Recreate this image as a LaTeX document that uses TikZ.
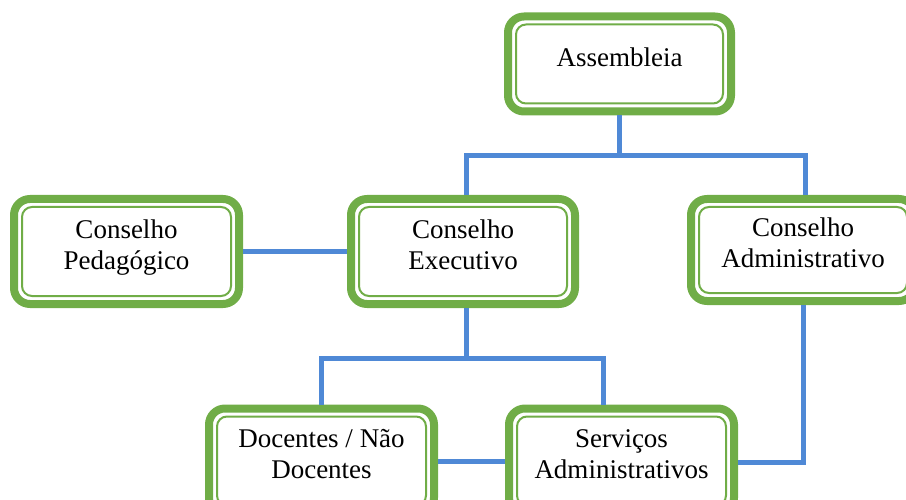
\documentclass[tikz,border=0pt]{standalone}
\usepackage{fontspec}
\setmainfont{Liberation Serif}
\definecolor{boxgreen}{HTML}{70AD47}
\definecolor{lineblue}{HTML}{4F89D6}
\begin{document}
\begin{tikzpicture}[x=1pt,y=-1pt,
  orgbox/.style={draw=boxgreen, line width=8pt, rounded corners=16pt, fill=white,
    minimum width=224pt, minimum height=105pt, align=center, text depth=14pt,
    font=\fontsize{27}{31}\selectfont},
  inbox/.style={draw=boxgreen, line width=2pt, rounded corners=10pt},
  link/.style={draw=lineblue, line width=5pt}]
\useasboundingbox (0,0) rectangle (906,500);
\node [orgbox, minimum width=223pt, minimum height=95pt] (asm) at (619.5,64) {Assembleia};
\node [orgbox, minimum width=225pt] (ped) at (126.5,251.5) {Conselho\\Pedag\'ogico};
\node [orgbox] (exe) at (463,251.5) {Conselho\\Executivo};
\node [orgbox, minimum height=102pt] (adm) at (803,250) {Conselho\\Administrativo};
\node [orgbox, minimum width=225pt] (doc) at (321.5,461) {Docentes / N\~ao\\Docentes};
\node [orgbox, minimum width=225pt] (srv) at (621.5,461) {Servi\c{c}os\\Administrativos};
% inner frames
\foreach \n in {asm,ped,exe,adm,doc,srv}
  \draw [inbox] ([shift={(12pt,12pt)}]\n.south west) rectangle ([shift={(-12pt,-12pt)}]\n.north east);
% top level
\coordinate (bus1) at (620,156);
\draw [link] (asm.south) -- (asm.south |- bus1);
\draw [link] ([xshift=3pt]exe.north) |- (bus1) -| ([xshift=2pt]adm.north);
% executive
\draw [link] (ped.east) -- (exe.west);
\coordinate (bus2) at (466,358);
\draw [link] ([xshift=3pt]exe.south) -- (bus2);
\draw [link] (doc.north) |- (bus2) -| ([xshift=-18pt]srv.north);
% services
\draw [link] (doc.east) -- (srv.west);
\draw [link] (adm.south) |- ([yshift=-1pt]srv.east);
\end{tikzpicture}
\end{document}
